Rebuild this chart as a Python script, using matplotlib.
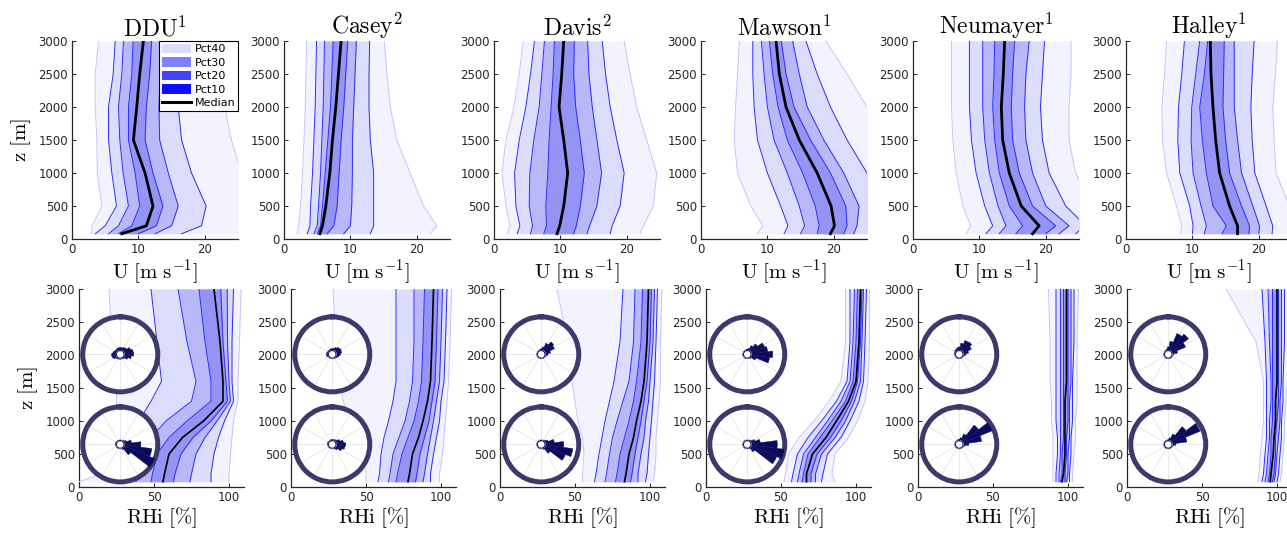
"""Wind speed / RHi percentile profiles at six Antarctic stations, with wind roses."""
import numpy as np
import matplotlib
matplotlib.use("Agg")
import matplotlib.pyplot as plt
from matplotlib.patches import Patch
from matplotlib.lines import Line2D

plt.rcParams["mathtext.fontset"] = "cm"
plt.rcParams["font.family"] = "DejaVu Sans"

STATIONS = ["DDU", "Casey", "Davis", "Mawson", "Neumayer", "Halley"]
SOURCE = [1, 2, 2, 1, 1, 1]
PCT_LABELS = ["Pct40", "Pct30", "Pct20", "Pct10", "Median"]

# heights of the read-off profile points [m]
Z_U = [80, 200, 500, 1000, 1500, 2000, 2500, 3000]
Z_RHI = [80, 200, 500, 750, 1000, 1300, 1600, 2200, 3000]

# rows: percentiles 10, 20, ..., 90 ; columns: heights
DDU_U = [
    [3.0, 3.0, 4.5, 3.8, 3.75, 3.5, 3.5, 4.0],
    [3.5, 5.0, 6.7, 6.0, 5.5, 5.5, 6.2, 6.5],
    [5.5, 7.0, 8.5, 7.7, 7.2, 7.0, 7.5, 7.75],
    [7.0, 9.0, 10.2, 9.5, 8.5, 8.5, 9.0, 9.2],
    [7.5, 11.2, 12.2, 11.0, 9.25, 9.75, 10.2, 10.75],
    [10.0, 12.7, 13.7, 12.2, 11.0, 11.2, 11.7, 12.0],
    [12.5, 15.0, 16.0, 14.5, 13.2, 13.1, 13.3, 13.5],
    [16.5, 19.5, 20.2, 18.0, 16.5, 16.0, 16.0, 16.0],
    [25.0, 26.0, 26.0, 25.5, 24.0, 23.0, 22.5, 21.5],
]
CASEY_U = [
    [2.0, 2.2, 2.5, 2.8, 3.0, 3.2, 3.3, 3.4],
    [3.5, 3.9, 4.0, 4.3, 4.5, 4.7, 4.8, 4.9],
    [4.5, 5.0, 5.2, 5.5, 5.7, 5.9, 6.0, 6.1],
    [5.0, 5.5, 5.8, 6.2, 6.6, 7.0, 7.2, 7.4],
    [5.4, 5.8, 6.3, 6.9, 7.3, 7.8, 8.2, 8.6],
    [6.5, 7.5, 8.0, 8.3, 8.6, 9.0, 9.3, 9.6],
    [9.0, 10.0, 10.2, 10.3, 10.3, 10.5, 10.7, 10.9],
    [13.0, 13.5, 13.5, 13.5, 13.0, 12.8, 12.8, 12.9],
    [22.0, 23.0, 21.0, 19.0, 17.0, 16.0, 15.5, 15.1],
]
DAVIS_U = [
    [2.0, 2.4, 1.8, 1.2, 1.8, 3.0, 3.8, 4.4],
    [3.5, 3.9, 3.3, 3.1, 3.8, 4.8, 5.5, 6.1],
    [5.5, 5.8, 5.3, 5.4, 6.0, 6.8, 7.2, 7.6],
    [7.5, 7.9, 7.8, 8.1, 8.3, 8.6, 8.9, 9.1],
    [9.5, 9.9, 10.5, 11.1, 10.5, 9.8, 10.2, 10.5],
    [12.0, 12.4, 13.0, 13.6, 13.0, 12.3, 12.0, 12.1],
    [14.0, 14.4, 15.5, 16.2, 15.5, 14.8, 14.3, 14.1],
    [17.5, 17.8, 19.0, 19.6, 18.5, 17.5, 16.8, 16.3],
    [22.0, 22.5, 24.0, 24.5, 23.0, 21.5, 20.5, 19.6],
]
MAWSON_U = [
    [8.5, 9.3, 7.5, 5.5, 5.0, 5.2, 5.5, 5.8],
    [12.5, 13.1, 12.0, 10.0, 8.5, 8.0, 7.8, 7.8],
    [15.0, 15.6, 14.8, 13.0, 11.0, 10.0, 9.5, 9.1],
    [17.5, 17.8, 17.2, 15.3, 13.0, 11.6, 10.8, 10.3],
    [19.5, 20.1, 19.6, 17.5, 14.8, 12.8, 11.8, 11.3],
    [21.5, 22.0, 21.8, 19.5, 16.5, 14.0, 12.8, 12.1],
    [23.0, 23.5, 23.8, 21.5, 18.5, 16.0, 14.8, 13.8],
    [25.5, 26.0, 26.5, 25.0, 22.0, 19.5, 17.5, 15.8],
    [28.0, 28.0, 28.0, 28.0, 27.0, 25.0, 22.0, 18.8],
]
NEUMAYER_U = [
    [8.0, 8.7, 7.5, 6.5, 6.0, 5.8, 5.8, 5.8],
    [11.0, 12.0, 10.8, 9.5, 8.8, 8.5, 8.5, 8.5],
    [13.0, 14.0, 12.8, 11.5, 10.8, 10.5, 10.5, 10.5],
    [15.5, 16.5, 14.5, 13.0, 12.3, 12.0, 12.2, 12.3],
    [18.0, 19.0, 16.3, 14.5, 13.5, 13.3, 13.6, 13.8],
    [20.0, 21.5, 18.0, 16.0, 15.0, 14.8, 15.0, 15.3],
    [22.0, 23.5, 20.0, 18.0, 17.0, 16.8, 17.0, 17.5],
    [24.5, 26.0, 23.0, 20.5, 19.5, 19.2, 19.5, 19.8],
    [28.0, 28.0, 27.0, 24.5, 23.5, 23.5, 23.8, 23.8],
]
HALLEY_U = [
    [8.2, 8.4, 7.6, 6.1, 5.5, 5.4, 5.8, 6.1],
    [10.0, 10.1, 9.6, 8.1, 7.8, 7.9, 8.4, 8.8],
    [11.8, 12.1, 11.3, 10.1, 9.8, 9.9, 10.5, 11.1],
    [14.5, 15.1, 13.1, 12.1, 11.5, 11.1, 11.8, 12.3],
    [16.8, 16.8, 15.6, 14.1, 13.5, 13.1, 12.8, 12.7],
    [18.5, 18.6, 17.4, 15.6, 15.0, 14.6, 14.7, 14.8],
    [20.0, 20.1, 19.1, 17.4, 16.8, 16.3, 16.3, 16.3],
    [22.0, 22.1, 21.1, 19.4, 19.0, 18.8, 19.0, 19.3],
    [25.0, 25.0, 24.6, 22.6, 22.3, 22.1, 22.5, 22.8],
]

DDU_RHI = [
    [0, 15, 20, 22, 25, 25, 25, 22, 20],
    [25, 30, 33, 35, 40, 48, 55, 52, 48],
    [38, 40, 42, 48, 58, 75, 78, 72, 66],
    [48, 49, 52, 60, 72, 88, 88, 84, 80],
    [56, 57, 60, 69, 83, 96, 96, 94, 90],
    [63, 64, 68, 76, 88, 99, 98, 96, 94.5],
    [74, 75, 78, 84, 92, 101, 100, 99, 98.8],
    [88, 88, 90, 93, 97, 103, 102, 102, 103],
    [100, 100, 101, 102, 103, 106, 106, 107, 108],
]
CASEY_RHI = [
    [50, 50, 48, 42, 38, 35, 32, 30, 28],
    [58, 59, 60, 62, 65, 68, 70, 70, 70],
    [65, 66, 68, 72, 76, 79, 81, 82, 82],
    [70, 71, 74, 78, 82, 85, 87, 88, 89],
    [78, 79, 81, 85, 88, 91, 93, 94, 95],
    [83, 84, 86, 89, 92, 94, 96, 97, 98],
    [88, 89, 91, 93, 95, 97, 99, 100, 101],
    [93, 93, 95, 97, 99, 100, 102, 103, 104],
    [99, 99, 101, 102, 103, 104, 105, 106, 107],
]
DAVIS_RHI = [
    [55, 55, 56, 55, 52, 50, 48, 45, 38],
    [63, 64, 66, 68, 70, 73, 76, 80, 82],
    [70, 71, 73, 75, 78, 82, 86, 89, 90],
    [77, 78, 80, 83, 86, 89, 91, 94, 95],
    [83, 84, 86, 89, 91, 94, 96, 98, 99],
    [87, 88, 90, 92, 94, 96, 98, 100, 101],
    [92, 92, 94, 96, 97, 99, 100, 102, 103],
    [97, 98, 99, 100, 101, 102, 103, 104, 105],
    [102, 103, 104, 104, 105, 106, 107, 107, 108],
]
MAWSON_RHI = [
    [52, 53, 55, 62, 72, 82, 90, 93, 93],
    [57, 58, 61, 68, 77, 87, 94, 96, 96],
    [61, 62, 65, 73, 81, 90, 96, 98, 99],
    [64, 65, 68, 76, 84, 93, 98, 100, 101],
    [67, 67, 71, 80, 87, 95, 100, 102, 103],
    [70, 70, 74, 83, 90, 97, 101, 103, 104],
    [73, 73, 77, 86, 93, 99, 103, 104, 105],
    [77, 78, 81, 90, 96, 102, 105, 106, 107],
    [86, 84, 86, 95, 101, 106, 108, 109, 109],
]
NEUMAYER_RHI = [
    [90, 90, 90, 90, 89, 89, 88, 88, 87],
    [92, 92, 93, 93, 92, 92, 92, 92, 92],
    [94, 94, 95, 95, 95, 95, 95, 95, 95],
    [95, 96, 96, 97, 97, 97, 97, 97, 97],
    [96, 97, 98, 98, 98, 98, 99, 99, 99],
    [98, 98, 99, 99, 100, 100, 100, 100, 100],
    [99, 100, 100, 101, 101, 101, 102, 102, 102],
    [101, 101, 102, 102, 103, 103, 103, 104, 104],
    [103, 103, 104, 105, 105, 106, 106, 106, 107],
]
HALLEY_RHI = [
    [87, 88, 89, 90, 91, 91, 91, 86, 66],
    [90, 91, 92, 93, 93, 93, 93, 92, 90],
    [92, 93, 94, 95, 95, 96, 96, 95, 94],
    [94, 95, 96, 96, 97, 97, 97, 97, 97],
    [95.5, 96, 97.5, 98, 99, 99, 100, 100, 100],
    [97, 98, 99, 99, 100, 101, 101, 101, 101],
    [98, 99, 100, 101, 102, 102, 103, 103, 103],
    [100, 101, 102, 103, 103, 104, 104, 105, 105],
    [102, 103, 104, 105, 105, 106, 107, 107, 108],
]

# wind roses: relative frequency per 15 deg sector (N, 15, 30, ... 345), upper / lower level
ROSE_DIRS = list(range(0, 360, 15))
DDU_ROSE_UP = [0.18, 0.18, 0.2, 0.22, 0.3, 0.35, 0.36, 0.3, 0.22, 0.15, 0.13, 0.13,
               0.13, 0.13, 0.14, 0.15, 0.2, 0.23, 0.23, 0.2, 0.17, 0.16, 0.17, 0.18]
DDU_ROSE_LOW = [0.12, 0.12, 0.12, 0.14, 0.18, 0.3, 0.55, 0.85, 1.0, 0.35, 0.15, 0.12,
                0.12, 0.12, 0.12, 0.12, 0.12, 0.12, 0.13, 0.13, 0.12, 0.12, 0.12, 0.12]
CASEY_ROSE_UP = [0.15, 0.17, 0.2, 0.24, 0.26, 0.25, 0.22, 0.18, 0.15, 0.13, 0.12, 0.12,
                 0.12, 0.12, 0.12, 0.12, 0.13, 0.15, 0.16, 0.15, 0.14, 0.14, 0.14, 0.15]
CASEY_ROSE_LOW = [0.13, 0.13, 0.14, 0.16, 0.22, 0.3, 0.36, 0.34, 0.28, 0.18, 0.14, 0.12,
                  0.12, 0.12, 0.12, 0.12, 0.12, 0.12, 0.13, 0.13, 0.13, 0.12, 0.12, 0.13]
DAVIS_ROSE_UP = [0.15, 0.2, 0.32, 0.42, 0.38, 0.25, 0.18, 0.14, 0.12, 0.12, 0.12, 0.12,
                 0.12, 0.12, 0.12, 0.12, 0.12, 0.12, 0.12, 0.12, 0.12, 0.12, 0.12, 0.13]
DAVIS_ROSE_LOW = [0.12, 0.12, 0.13, 0.15, 0.2, 0.35, 0.6, 0.85, 0.7, 0.3, 0.15, 0.12,
                  0.12, 0.12, 0.12, 0.12, 0.12, 0.12, 0.12, 0.12, 0.12, 0.12, 0.12, 0.12]
MAWSON_ROSE_UP = [0.14, 0.16, 0.25, 0.35, 0.5, 0.55, 0.68, 0.6, 0.25, 0.14, 0.12, 0.12,
                  0.12, 0.12, 0.12, 0.12, 0.12, 0.12, 0.12, 0.12, 0.12, 0.12, 0.12, 0.13]
MAWSON_ROSE_LOW = [0.12, 0.12, 0.13, 0.15, 0.22, 0.35, 0.8, 1.0, 0.85, 0.25, 0.13, 0.12,
                   0.12, 0.12, 0.12, 0.12, 0.12, 0.12, 0.12, 0.12, 0.12, 0.12, 0.12, 0.12]
NEUMAYER_ROSE_UP = [0.2, 0.3, 0.4, 0.42, 0.35, 0.25, 0.18, 0.14, 0.12, 0.12, 0.12, 0.12,
                    0.12, 0.12, 0.12, 0.12, 0.12, 0.12, 0.12, 0.13, 0.14, 0.15, 0.16, 0.18]
NEUMAYER_ROSE_LOW = [0.14, 0.18, 0.3, 0.65, 0.95, 0.6, 0.25, 0.15, 0.12, 0.12, 0.12, 0.12,
                     0.12, 0.12, 0.12, 0.12, 0.12, 0.12, 0.12, 0.12, 0.12, 0.12, 0.12, 0.13]
HALLEY_ROSE_UP = [0.2, 0.35, 0.6, 0.68, 0.5, 0.25, 0.15, 0.12, 0.12, 0.12, 0.12, 0.12,
                  0.12, 0.12, 0.12, 0.12, 0.12, 0.12, 0.12, 0.12, 0.12, 0.12, 0.13, 0.15]
HALLEY_ROSE_LOW = [0.13, 0.18, 0.3, 0.6, 0.92, 0.5, 0.2, 0.13, 0.12, 0.12, 0.12, 0.12,
                   0.12, 0.12, 0.12, 0.12, 0.12, 0.12, 0.12, 0.12, 0.12, 0.12, 0.12, 0.12]

U_DATA = [DDU_U, CASEY_U, DAVIS_U, MAWSON_U, NEUMAYER_U, HALLEY_U]
RHI_DATA = [DDU_RHI, CASEY_RHI, DAVIS_RHI, MAWSON_RHI, NEUMAYER_RHI, HALLEY_RHI]
ROSES = [(DDU_ROSE_UP, DDU_ROSE_LOW), (CASEY_ROSE_UP, CASEY_ROSE_LOW),
         (DAVIS_ROSE_UP, DAVIS_ROSE_LOW), (MAWSON_ROSE_UP, MAWSON_ROSE_LOW),
         (NEUMAYER_ROSE_UP, NEUMAYER_ROSE_LOW), (HALLEY_ROSE_UP, HALLEY_ROSE_LOW)]

BAND_FILL = ["#f3f3ff", "#dcdcfc", "#b9b9f9", "#9494f6"]
LEGEND_FILL = ["#dcdcfc", "#8080fa", "#4343fb", "#0c0cff"]
AXC = "#262626"
NAVY = "#0b0b5c"
RING = "#3c3a6d"

W, H = 1287, 533
fig = plt.figure(figsize=(W / 100, H / 100), dpi=100)

TOP_LEFT = [72, 284, 494, 701, 913, 1126]
BOT_LEFT = [79, 291, 500, 706, 918, 1127]


def px_axes(left, top, width, height):
    return fig.add_axes([left / W, (H - top - height) / H, width / W, height / H])


def draw_profiles(ax, z, pct, median_lw):
    p = np.asarray(pct, dtype=float)
    for k in range(4):
        ax.fill_betweenx(z, p[k], p[8 - k], color=BAND_FILL[k], lw=0, zorder=1 + k)
    for k in range(9):
        if k == 4:
            continue
        col = "#c4c4ff" if k in (0, 8) else "#2a2aff"
        ax.plot(p[k], z, color=col, lw=0.7, zorder=6)
    ax.plot(p[4], z, color="black", lw=median_lw, zorder=7)


def style(ax, xmax, xticks):
    ax.set_xlim(0, xmax)
    ax.set_ylim(0, 3000)
    ax.set_xticks(xticks)
    ax.set_yticks(range(0, 3001, 500))
    for s in ("top", "right"):
        ax.spines[s].set_visible(False)
    for s in ("left", "bottom"):
        ax.spines[s].set_color(AXC)
        ax.spines[s].set_linewidth(0.9)
    ax.tick_params(direction="in", length=3, width=0.7, colors=AXC, labelsize=8.5, pad=3)


def draw_rose(ax, yc, radii):
    box = 75
    wf, hf = box / 165, box / 198
    rax = ax.inset_axes([0.25 - wf / 2, yc - hf / 2, wf, hf], projection="polar", zorder=10)
    rax.set_theta_zero_location("N")
    rax.set_theta_direction(-1)
    hole = 0.1
    th = np.deg2rad(ROSE_DIRS)
    r = np.asarray(radii)
    rax.bar(th, r - hole, width=np.deg2rad(15), bottom=hole, color=NAVY,
            edgecolor=NAVY, lw=0.3, zorder=3)
    circ = np.linspace(0, 2 * np.pi, 100)
    rax.fill(circ, np.full_like(circ, hole), color="white", zorder=4)
    rax.plot(circ, np.full_like(circ, hole), color=NAVY, lw=0.7, zorder=5)
    rax.set_ylim(0, 1)
    rax.set_yticks([])
    rax.set_xticks(np.deg2rad(range(0, 360, 30)))
    rax.set_xticklabels([])
    rax.xaxis.grid(True, color="#e4e4e4", lw=0.6)
    rax.set_facecolor("white")
    rax.spines["polar"].set_color(RING)
    rax.spines["polar"].set_linewidth(3.6)


for i, name in enumerate(STATIONS):
    # wind speed row
    ax = px_axes(TOP_LEFT[i], 41, 166, 198)
    draw_profiles(ax, Z_U, U_DATA[i], 2.0)
    style(ax, 25, [0, 10, 20])
    ax.set_title(r"$\mathrm{%s}^{%d}$" % (name, SOURCE[i]), fontsize=17, pad=3)
    ax.set_xlabel(r"$\mathrm{U\ [m\ s^{-1}]}$", fontsize=15, labelpad=1)
    if i == 0:
        ax.set_ylabel(r"$\mathrm{z\ [m]}$", fontsize=15, labelpad=4)
        handles = [Patch(facecolor=c, edgecolor="none") for c in LEGEND_FILL]
        handles.append(Line2D([], [], color="black", lw=2.2))
        leg = ax.legend(handles, PCT_LABELS, loc="upper right", bbox_to_anchor=(1.0, 1.0),
                        borderaxespad=0, fontsize=8, handlelength=2.6, handleheight=0.9,
                        handletextpad=0.3, labelspacing=0.28, borderpad=0.25,
                        fancybox=False, framealpha=1, edgecolor="black")
        leg.get_frame().set_linewidth(0.8)
        leg.set_zorder(20)

    # RHi row
    ax = px_axes(BOT_LEFT[i], 289, 165, 198)
    draw_profiles(ax, Z_RHI, RHI_DATA[i], 1.2)
    style(ax, 110, [0, 50, 100])
    ax.set_xlabel(r"$\mathrm{RHi\ [\%]}$", fontsize=15, labelpad=1)
    if i == 0:
        ax.set_ylabel(r"$\mathrm{z\ [m]}$", fontsize=15, labelpad=4)
    up, low = ROSES[i]
    draw_rose(ax, 0.67, up)
    draw_rose(ax, 0.215, low)

fig.savefig("out.png", dpi=100)
